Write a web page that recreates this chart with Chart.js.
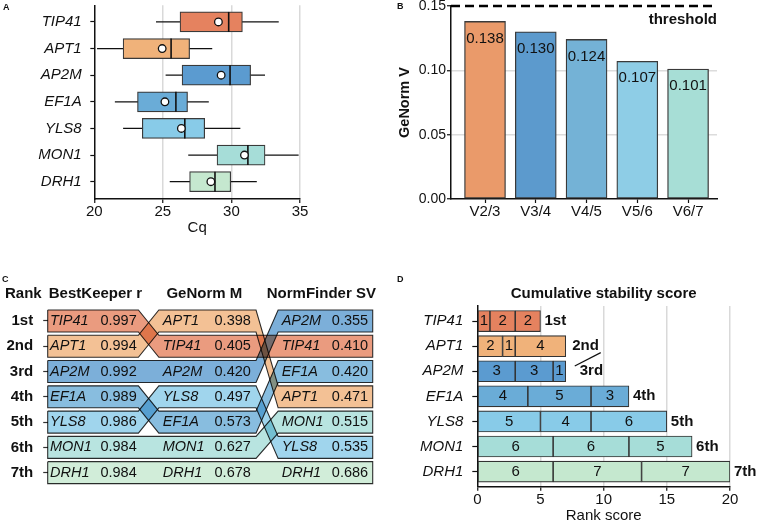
<!DOCTYPE html>
<html>
<head>
<meta charset="utf-8">
<script src="https://cdn.jsdelivr.net/npm/chart.js@4.4.1/dist/chart.umd.min.js"></script>
<style>
  html, body { margin: 0; padding: 0; background: #fff; }
  #page { position: relative; width: 758px; height: 522px; overflow: hidden; font-family: 'Liberation Sans', Arial, sans-serif; }
  .panel { position: absolute; }
  .tag { position: absolute; font-weight: bold; font-size: 9px; color: #111; z-index: 2; }
</style>
</head>
<body>
<div id="page">
  <div class="panel" style="left:0;top:0;width:380px;height:240px"><canvas id="chartA"></canvas></div>
  <div class="panel" style="left:380px;top:0;width:378px;height:240px"><canvas id="chartB"></canvas></div>
  <div class="panel" style="left:0;top:250px;width:400px;height:272px"><canvas id="chartC"></canvas></div>
  <div class="panel" style="left:400px;top:250px;width:358px;height:274px"><canvas id="chartD"></canvas></div>
  <div class="tag" style="left:3px;top:2px">A</div>
  <div class="tag" style="left:397px;top:1px">B</div>
  <div class="tag" style="left:2px;top:274px">C</div>
  <div class="tag" style="left:397px;top:274px">D</div>
</div>
<script>
const FONT = "'Liberation Sans', Arial, Helvetica, sans-serif";

// genes, top to bottom
const genes = ['TIP41', 'APT1', 'AP2M', 'EF1A', 'YLS8', 'MON1', 'DRH1'];
const geneColors = ['#E5825F', '#F0B27A', '#5B9BD0', '#6AACD7', '#88CBE8', '#A6DDD8', '#C5E8CF'];

// A: Cq distribution per gene
const cqMin = [24.5, 20.2, 25.2, 21.5, 22.1, 26.85, 25.5];
const cqQ1 = [26.25, 22.1, 26.4, 23.15, 23.5, 28.95, 26.95];
const cqMedian = [29.8, 25.6, 29.9, 25.95, 26.6, 31.2, 28.8];
const cqQ3 = [30.8, 26.95, 31.4, 26.8, 28.05, 32.45, 29.95];
const cqMax = [33.45, 28.6, 32.45, 28.35, 30.65, 34.9, 31.85];
const cqMean = [29.05, 24.95, 29.25, 25.15, 26.35, 30.95, 28.5];

// B: pairwise variation
const vLabels = ['V2/3', 'V3/4', 'V4/5', 'V5/6', 'V6/7'];
const vValues = [0.138, 0.130, 0.124, 0.107, 0.101];
const vColors = ['#EA9A6A', '#5C9ACD', '#74B2D6', '#8ECDE6', '#A7DED6'];
const threshold = 0.15;

// C: ranking by each method
const rankLabels = ['1st', '2nd', '3rd', '4th', '5th', '6th', '7th'];
const methods = ['BestKeeper r', 'GeNorm M', 'NormFinder SV'];
const bestKeeperOrder = ['TIP41', 'APT1', 'AP2M', 'EF1A', 'YLS8', 'MON1', 'DRH1'];
const bestKeeperValues = [0.997, 0.994, 0.992, 0.989, 0.986, 0.984, 0.984];
const geNormOrder = ['APT1', 'TIP41', 'AP2M', 'YLS8', 'EF1A', 'MON1', 'DRH1'];
const geNormValues = [0.398, 0.405, 0.420, 0.497, 0.573, 0.627, 0.678];
const normFinderOrder = ['AP2M', 'TIP41', 'EF1A', 'APT1', 'MON1', 'YLS8', 'DRH1'];
const normFinderValues = [0.355, 0.410, 0.420, 0.471, 0.515, 0.535, 0.686];

// D: rank scores per gene (BestKeeper, GeNorm, NormFinder)
const scoreBestKeeper = [1, 2, 3, 4, 5, 6, 6];
const scoreGeNorm = [2, 1, 3, 5, 4, 6, 7];
const scoreNormFinder = [2, 4, 1, 3, 6, 5, 7];
const finalRank = ['1st', '2nd', '3rd', '4th', '5th', '6th', '7th'];

// layout of the C columns on a 0-100 x scale
const colStart = [0, 34.2, 70.9];
const colEnd = [27.9, 64.1, 100];
const nameX = [0.7, 35.4, 72.0];
const valueX = [27.4, 62.5, 98.6];
const headerX = [14.7, 48.2, 84.2];
const halfRow = 0.435;

Chart.defaults.font.family = FONT;
Chart.defaults.font.size = 15;
Chart.defaults.font.lineHeight = 1;
Chart.defaults.color = '#111';

const clear = 'rgba(0,0,0,0)';
const base = {
  responsive: true,
  maintainAspectRatio: false,
  animation: false,
  events: [],
  plugins: { legend: { display: false }, tooltip: { enabled: false } }
};

const fade = (hex, a) => {
  const n = parseInt(hex.slice(1), 16);
  return `rgba(${n >> 16},${(n >> 8) & 255},${n & 255},${a})`;
};
const fixedTicks = (values) => (axis) => { axis.ticks = values.map((value) => ({ value })); };
const fixWidth = (w) => (axis) => { axis.width = w; axis.paddingTop = 0; axis.paddingBottom = 0; };
const indexes = (n) => Array.from({ length: n }, (_, i) => i);

// ---------- A ----------
const boxPlotExtras = {
  id: 'boxPlotExtras',
  beforeDatasetsDraw(chart) {
    const { ctx, scales: { x, y } } = chart;
    ctx.save();
    ctx.strokeStyle = '#111';
    ctx.lineWidth = 1.3;
    genes.forEach((g, i) => {
      const py = y.getPixelForValue(i);
      ctx.beginPath();
      ctx.moveTo(x.getPixelForValue(cqMin[i]), py);
      ctx.lineTo(x.getPixelForValue(cqMax[i]), py);
      ctx.stroke();
    });
    ctx.restore();
  },
  afterDatasetDraw(chart, args) {
    if (args.index !== 0) return;
    const { ctx, scales: { x } } = chart;
    ctx.save();
    ctx.strokeStyle = '#111';
    ctx.lineWidth = 1.6;
    chart.getDatasetMeta(0).data.forEach((bar, i) => {
      const px = x.getPixelForValue(cqMedian[i]);
      const h = bar.height / 2;
      ctx.beginPath();
      ctx.moveTo(px, bar.y - h);
      ctx.lineTo(px, bar.y + h);
      ctx.stroke();
    });
    ctx.restore();
  }
};

new Chart(document.getElementById('chartA'), {
  type: 'bar',
  data: {
    datasets: [{
      data: genes.map((g, i) => ({ x: [cqQ1[i], cqQ3[i]], y: i })),
      backgroundColor: geneColors,
      borderColor: '#3a3a3a',
      borderWidth: 1.2,
      borderSkipped: false,
      barThickness: 20,
      order: 2
    }, {
      type: 'scatter',
      data: genes.map((g, i) => ({ x: cqMean[i], y: i })),
      pointRadius: 3.8,
      pointBackgroundColor: '#fff',
      pointBorderColor: '#111',
      pointBorderWidth: 1.3,
      order: 1
    }]
  },
  options: {
    ...base,
    indexAxis: 'y',
    layout: { padding: { top: 5, right: 80, bottom: 4.5, left: 0 } },
    scales: {
      x: {
        type: 'linear', min: 20, max: 35, offset: false,
        ticks: { stepSize: 5, padding: 1 },
        grid: { color: (c) => (c.tick && c.tick.value === 20 ? clear : '#d9d9d9'), lineWidth: 1.5, tickColor: '#111', tickLength: 4, tickWidth: 1.2, offset: false },
        border: { color: '#111', width: 1.5 },
        title: { display: true, text: 'Cq', padding: { top: 0.5, bottom: 0 } }
      },
      y: {
        type: 'linear', min: -0.625, max: 6.65, reverse: true, offset: false,
        afterBuildTicks: fixedTicks(indexes(genes.length)),
        afterFit: fixWidth(94.3),
        ticks: { callback: (v) => genes[v], padding: 8.6, autoSkip: false, font: { style: 'italic' } },
        grid: { drawOnChartArea: false, tickLength: 4, tickColor: '#111', tickWidth: 1.2, offset: false },
        border: { color: '#111', width: 1.5 }
      }
    }
  },
  plugins: [boxPlotExtras]
});

// ---------- B ----------
const genormExtras = {
  id: 'genormExtras',
  afterDatasetsDraw(chart) {
    const { ctx, chartArea, scales: { y } } = chart;
    ctx.save();
    ctx.fillStyle = '#111';
    ctx.textAlign = 'center';
    ctx.textBaseline = 'middle';
    ctx.font = `15px ${FONT}`;
    chart.getDatasetMeta(0).data.forEach((bar, i) => {
      ctx.fillText(vValues[i].toFixed(3), bar.x, bar.y + 17);
    });
    const ty = y.getPixelForValue(threshold);
    ctx.strokeStyle = '#000';
    ctx.lineWidth = 2.5;
    ctx.setLineDash([9, 5]);
    ctx.beginPath();
    ctx.moveTo(chartArea.left, ty);
    ctx.lineTo(chartArea.right, ty);
    ctx.stroke();
    ctx.setLineDash([]);
    ctx.font = `bold 15px ${FONT}`;
    ctx.textAlign = 'right';
    ctx.fillText('threshold', chartArea.right, ty + 14);
    ctx.restore();
  }
};

new Chart(document.getElementById('chartB'), {
  type: 'bar',
  data: {
    datasets: [{
      data: vValues.map((v, i) => ({ x: i, y: v })),
      backgroundColor: vColors,
      borderColor: '#3a3a3a',
      borderWidth: 1.3,
      borderSkipped: false,
      barThickness: 41
    }]
  },
  options: {
    ...base,
    layout: { padding: { top: 6, right: 41, bottom: 18.4, left: 0 } },
    scales: {
      x: {
        type: 'linear', min: -0.67, max: 4.57, offset: false,
        afterBuildTicks: fixedTicks(indexes(vLabels.length)),
        ticks: { callback: (v) => vLabels[v], padding: 1.8, autoSkip: false },
        grid: { drawOnChartArea: false, tickLength: 4, tickColor: '#111', tickWidth: 1.2, offset: false },
        border: { color: '#111', width: 1.5 }
      },
      y: {
        type: 'linear', min: 0, max: threshold,
        afterFit: fixWidth(71),
        ticks: { stepSize: 0.05, callback: (v) => v.toFixed(2), padding: 1, font: { size: 14 } },
        grid: {
          color: (c) => (c.tick && c.tick.value > 0.001 && c.tick.value < threshold - 0.001 ? '#dcdcdc' : clear),
          lineWidth: 1.5, tickLength: 4, tickColor: '#111', tickWidth: 1.2
        },
        border: { color: '#111', width: 1.5 },
        title: { display: true, text: 'GeNorm V', font: { weight: 'bold', size: 14.5 }, padding: { top: 17.5, bottom: 0 } }
      }
    }
  },
  plugins: [genormExtras]
});

// ---------- C ----------
const columns = [
  { order: bestKeeperOrder, values: bestKeeperValues },
  { order: geNormOrder, values: geNormValues },
  { order: normFinderOrder, values: normFinderValues }
];

function bandPoints(gene) {
  const rows = columns.map((col) => col.order.indexOf(gene) + 1);
  const top = [];
  const bottom = [];
  rows.forEach((r, c) => {
    top.push({ x: colStart[c], y: r - halfRow }, { x: colEnd[c], y: r - halfRow });
  });
  for (let c = rows.length - 1; c >= 0; c--) {
    bottom.push({ x: colEnd[c], y: rows[c] + halfRow }, { x: colStart[c], y: rows[c] + halfRow });
  }
  return [...top, ...bottom, top[0]];
}

const rankTable = {
  id: 'rankTable',
  beforeDatasetsDraw(chart) {
    chart.ctx.save();
    chart.ctx.globalCompositeOperation = 'multiply';
  },
  afterDatasetsDraw(chart) {
    const { ctx, chartArea, scales: { x, y } } = chart;
    ctx.restore();
    ctx.save();
    ctx.fillStyle = '#111';
    ctx.textBaseline = 'middle';
    ctx.font = `bold 15px ${FONT}`;
    ctx.textAlign = 'center';
    const headY = chartArea.top - 14.4;
    methods.forEach((m, c) => ctx.fillText(m, x.getPixelForValue(headerX[c]), headY));
    ctx.textAlign = 'right';
    ctx.fillText('Rank', chartArea.left - 6, headY);
    columns.forEach((col, c) => {
      col.order.forEach((g, r) => {
        const py = y.getPixelForValue(r + 1);
        ctx.font = `italic 14.5px ${FONT}`;
        ctx.textAlign = 'left';
        ctx.fillText(g, x.getPixelForValue(nameX[c]), py);
        ctx.font = `14.5px ${FONT}`;
        ctx.textAlign = 'right';
        ctx.fillText(col.values[r].toFixed(3), x.getPixelForValue(valueX[c]), py);
      });
    });
    ctx.restore();
  }
};

new Chart(document.getElementById('chartC'), {
  type: 'line',
  data: {
    datasets: genes.map((g, i) => ({
      data: bandPoints(g),
      backgroundColor: fade(geneColors[i], 0.8),
      borderColor: '#2e2e2e',
      borderWidth: 1.1,
      fill: 'shape',
      pointRadius: 0,
      tension: 0,
      clip: false
    }))
  },
  options: {
    ...base,
    layout: { padding: { top: 58.35, right: 27.3, bottom: 36.7, left: 0 } },
    scales: {
      x: { type: 'linear', display: false, min: 0, max: 100 },
      y: {
        type: 'linear', min: 0.5, max: rankLabels.length + 0.5, reverse: true,
        afterBuildTicks: fixedTicks(rankLabels.map((r, i) => i + 1)),
        afterFit: fixWidth(47.7),
        ticks: { callback: (v) => rankLabels[v - 1], padding: 10, autoSkip: false, font: { weight: 'bold' } },
        grid: { drawOnChartArea: false, tickLength: 4.5, tickColor: '#333', tickWidth: 1.2 },
        border: { display: false }
      }
    }
  },
  plugins: [rankTable]
});

// ---------- D ----------
const scoreLabels = {
  id: 'scoreLabels',
  afterDatasetsDraw(chart) {
    const { ctx } = chart;
    ctx.save();
    ctx.fillStyle = '#111';
    ctx.strokeStyle = '#111';
    ctx.textBaseline = 'middle';
    ctx.font = `15px ${FONT}`;
    ctx.textAlign = 'center';
    chart.data.datasets.forEach((ds, d) => {
      chart.getDatasetMeta(d).data.forEach((bar, i) => {
        ctx.fillText(String(ds.data[i].x), (bar.x + bar.base) / 2, bar.y);
      });
    });
    const ends = chart.getDatasetMeta(chart.data.datasets.length - 1).data;
    const totals = genes.map((g, i) => scoreBestKeeper[i] + scoreGeNorm[i] + scoreNormFinder[i]);
    ctx.font = `bold 15px ${FONT}`;
    ctx.textAlign = 'left';
    ctx.lineWidth = 1.2;
    genes.forEach((g, i) => {
      const tiedUp = i > 0 && totals[i] === totals[i - 1];
      const tiedDown = i < genes.length - 1 && totals[i] === totals[i + 1];
      const gap = tiedUp ? 14 : tiedDown ? 6.5 : 4;
      ctx.fillText(finalRank[i], ends[i].x + gap, ends[i].y);
      if (tiedUp) {
        ctx.beginPath();
        ctx.moveTo(ends[i].x + 9, ends[i].y - 5.3);
        ctx.lineTo(ends[i].x + 35, ends[i - 1].y + 6.5);
        ctx.stroke();
      }
    });
    ctx.restore();
  }
};

new Chart(document.getElementById('chartD'), {
  type: 'bar',
  data: {
    datasets: [scoreBestKeeper, scoreGeNorm, scoreNormFinder].map((scores) => ({
      data: scores.map((v, i) => ({ x: v, y: i })),
      backgroundColor: geneColors,
      borderColor: '#333',
      borderWidth: 1.1,
      borderSkipped: false,
      barThickness: 21
    }))
  },
  options: {
    ...base,
    indexAxis: 'y',
    layout: { padding: { top: 0, right: 28, bottom: 0.7, left: 0 } },
    plugins: {
      ...base.plugins,
      title: {
        display: true, text: 'Cumulative stability score', fullSize: false,
        color: '#111', font: { weight: 'bold', size: 15 }, padding: { top: 36.5, bottom: 4.5 }
      }
    },
    scales: {
      x: {
        type: 'linear', stacked: true, min: 0, max: 20, offset: false,
        ticks: { stepSize: 5, padding: 1.3 },
        grid: { color: (c) => (c.tick && c.tick.value === 0 ? clear : '#d9d9d9'), lineWidth: 1.5, tickColor: '#111', tickLength: 4, tickWidth: 1.2, offset: false },
        border: { color: '#111', width: 1.5 },
        title: { display: true, text: 'Rank score', padding: { top: 0, bottom: 0 } }
      },
      y: {
        type: 'linear', stacked: true, min: -0.6, max: 6.6, reverse: true, offset: false,
        afterBuildTicks: fixedTicks(indexes(genes.length)),
        afterFit: fixWidth(77.3),
        ticks: { callback: (v) => genes[v], padding: 9, autoSkip: false, font: { style: 'italic' } },
        grid: { drawOnChartArea: false, tickLength: 5, tickColor: '#111', tickWidth: 1.2, offset: false },
        border: { color: '#111', width: 1.5 }
      }
    }
  },
  plugins: [scoreLabels]
});
</script>
</body>
</html>
